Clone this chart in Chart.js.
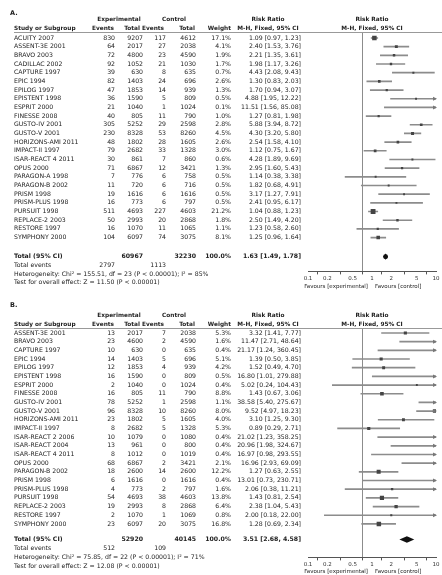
<!DOCTYPE html>
<html>
<head>
<meta charset="utf-8">
<script src="https://cdn.jsdelivr.net/npm/chart.js@4.4.1/dist/chart.umd.min.js"></script>
<style>
html, body { margin: 0; padding: 0; background: #fff; }
canvas { position: absolute; left: 0; }
#chartA { top: 0; }
#chartB { top: 292px; }
</style>
</head>
<body>
<canvas id="chartA" width="442" height="292"></canvas>
<canvas id="chartB" width="442" height="283"></canvas>
<script>
// axis ticks (risk ratio, log scale)
const xTicks = [0.1, 0.2, 0.5, 1, 2, 5, 10]

// ---- panel A ----
const studiesA = ["ACUITY 2007", "ASSENT-3E 2001", "BRAVO 2003", "CADILLAC 2002", "CAPTURE 1997", "EPIC 1994",
  "EPILOG 1997", "EPISTENT 1998", "ESPRIT 2000", "FINESSE 2008", "GUSTO-IV 2001", "GUSTO-V 2001",
  "HORIZONS-AMI 2011", "IMPACT-II 1997", "ISAR-REACT 4 2011", "OPUS 2000", "PARAGON-A 1998", "PARAGON-B 2002",
  "PRISM 1998", "PRISM-PLUS 1998", "PURSUIT 1998", "REPLACE-2 2003", "RESTORE 1997", "SYMPHONY 2000"]
const expEventsA = [830, 64, 72, 92, 39, 82, 47, 36, 21, 40, 305, 230, 48, 79, 30, 71, 7, 11, 19, 16, 511, 50, 16, 104]
const expTotalA = [9207, 2017, 4800, 1052, 630, 1403, 1853, 1590, 1040, 805, 5252, 8328, 1802, 2682, 861, 6867, 776, 720, 1616, 773, 4693, 2993, 1070, 6097]
const ctlEventsA = [117, 27, 23, 21, 8, 24, 14, 5, 1, 11, 29, 53, 28, 33, 7, 12, 6, 6, 6, 6, 227, 20, 11, 74]
const ctlTotalA = [4612, 2038, 4590, 1030, 635, 696, 939, 809, 1024, 790, 2598, 8260, 1605, 1328, 860, 3421, 758, 716, 1616, 797, 4603, 2868, 1065, 3075]
const weightA = [17.1, 4.1, 1.9, 1.7, 0.7, 2.6, 1.3, 0.5, 0.1, 1.0, 2.8, 4.5, 2.6, 3.0, 0.6, 1.3, 0.5, 0.5, 0.5, 0.5, 21.2, 1.8, 1.1, 8.1]
const rrA = [1.09, 2.40, 2.21, 1.98, 4.43, 1.30, 1.70, 4.88, 11.51, 1.27, 5.88, 4.30, 2.54, 1.12, 4.28, 2.95, 1.14, 1.82, 3.17, 2.41, 1.04, 2.50, 1.23, 1.25]
const loA = [0.97, 1.53, 1.35, 1.17, 2.08, 0.83, 0.94, 1.95, 1.56, 0.81, 3.94, 3.20, 1.58, 0.75, 1.89, 1.60, 0.38, 0.68, 1.27, 0.95, 0.88, 1.49, 0.58, 0.96]
const hiA = [1.23, 3.76, 3.61, 3.26, 9.43, 2.03, 3.07, 12.22, 85.08, 1.98, 8.72, 5.80, 4.10, 1.67, 9.69, 5.43, 3.38, 4.91, 7.91, 6.17, 1.23, 4.20, 2.60, 1.64]
const totalA = { expN: "60967", ctlN: "32230", rr: 1.63, lo: 1.49, hi: 1.78, expEv: "2797", ctlEv: "1113" }
const hetA = "Heterogeneity: Chi² = 155.51, df = 23 (P < 0.00001); I² = 85%"
const testA = "Test for overall effect: Z = 11.50 (P < 0.00001)"

// ---- panel B ----
const studiesB = ["ASSENT-3E 2001", "BRAVO 2003", "CAPTURE 1997", "EPIC 1994", "EPILOG 1997", "EPISTENT 1998",
  "ESPRIT 2000", "FINESSE 2008", "GUSTO-IV 2001", "GUSTO-V 2001", "HORIZONS-AMI 2011", "IMPACT-II 1997",
  "ISAR-REACT 2 2006", "ISAR-REACT 2004", "ISAR-REACT 4 2011", "OPUS 2000", "PARAGON-B 2002", "PRISM 1998",
  "PRISM-PLUS 1998", "PURSUIT 1998", "REPLACE-2 2003", "RESTORE 1997", "SYMPHONY 2000"]
const expEventsB = [13, 23, 10, 14, 12, 16, 2, 16, 78, 96, 23, 8, 10, 13, 8, 68, 18, 6, 4, 54, 19, 2, 23]
const expTotalB = [2017, 4600, 630, 1403, 1853, 1590, 1040, 805, 5252, 8328, 1802, 2682, 1079, 961, 1012, 6867, 2600, 1616, 773, 4693, 2993, 1070, 6097]
const ctlEventsB = [7, 2, 0, 5, 4, 0, 0, 11, 1, 10, 5, 5, 0, 0, 0, 2, 14, 0, 2, 38, 8, 1, 20]
const ctlTotalB = [2038, 4590, 635, 696, 939, 809, 1024, 790, 2598, 8260, 1605, 1328, 1080, 800, 1019, 3421, 2600, 1616, 797, 4603, 2868, 1069, 3075]
const weightB = [5.3, 1.6, 0.4, 5.1, 4.2, 0.5, 0.4, 8.8, 1.1, 8.0, 4.0, 5.3, 0.4, 0.4, 0.4, 2.1, 12.2, 0.4, 1.6, 13.8, 6.4, 0.8, 16.8]
const rrB = [3.32, 11.47, 21.17, 1.39, 1.52, 16.80, 5.02, 1.43, 38.58, 9.52, 3.10, 0.89, 21.02, 20.96, 16.97, 16.96, 1.27, 13.01, 2.06, 1.43, 2.38, 2.00, 1.28]
const loB = [1.41, 2.71, 1.24, 0.50, 0.49, 1.01, 0.24, 0.67, 5.40, 4.97, 1.25, 0.29, 1.23, 1.98, 0.98, 2.93, 0.63, 0.73, 0.38, 0.81, 1.04, 0.18, 0.69]
const hiB = [7.77, 48.64, 360.45, 3.85, 4.70, 279.88, 104.43, 3.06, 275.67, 18.23, 9.30, 2.71, 358.25, 324.67, 293.55, 69.09, 2.55, 230.71, 11.21, 2.54, 5.43, 22.00, 2.34]
const totalB = { expN: "52920", ctlN: "40145", rr: 3.51, lo: 2.68, hi: 4.58, expEv: "512", ctlEv: "109" }
const hetB = "Heterogeneity: Chi² = 75.85, df = 22 (P < 0.00001); I² = 71%"
const testB = "Test for overall effect: Z = 12.08 (P < 0.00001)"

const FONT = '"DejaVu Sans", Verdana, sans-serif'
const fmt = (r, l, h) => r.toFixed(2) + " [" + l.toFixed(2) + ", " + h.toFixed(2) + "]"

const forestPlugin = {
    id: 'forest',
    afterDraw(chart, args, o) {
        const ctx = chart.ctx, xs = chart.scales.x, ys = chart.scales.y
        const top = chart.chartArea.top
        const Y = v => ys.getPixelForValue(v)
        const txt = (s, x, y, align, bold, size) => {
            ctx.font = (bold ? 'bold ' : '') + (size || 6.2) + 'px ' + FONT
            ctx.textAlign = align
            ctx.fillText(s, x, y)
        }
        ctx.save()
        ctx.fillStyle = '#222'
        ctx.textBaseline = 'middle'

        txt(o.letter, 10, top - o.letterOff, 'left', true, 6.5)
        // column headers
        const h1 = top - 13, h2 = top - 3.5
        txt('Experimental', 119, h1, 'center', true, 5.8)
        txt('Control', 174, h1, 'center', true, 5.8)
        txt('Risk Ratio', 268, h1, 'center', true, 5.8)
        txt('Risk Ratio', xs.getPixelForValue(1), h1, 'center', true, 5.8)
        txt('Study or Subgroup', 14, h2, 'left', true, 5.8)
        txt('Events', 114, h2, 'right', true, 5.8)
        txt('Total', 140, h2, 'right', true, 5.8)
        txt('Events', 164, h2, 'right', true, 5.8)
        txt('Total', 195, h2, 'right', true, 5.8)
        txt('Weight', 231, h2, 'right', true, 5.8)
        txt('M-H, Fixed, 95% CI', 268, h2, 'center', true, 5.8)
        txt('M-H, Fixed, 95% CI', xs.getPixelForValue(1), h2, 'center', true, 5.8)

        ctx.strokeStyle = '#999'
        ctx.lineWidth = 1
        ctx.beginPath()
        ctx.moveTo(14, top + 0.5)
        ctx.lineTo(442, top + 0.5)
        ctx.stroke()

        // study rows
        o.studies.forEach((s, i) => {
            const y = Y(i)
            txt(s, 14, y, 'left')
            txt(String(o.evE[i]), 115, y, 'right')
            txt(String(o.nE[i]), 143, y, 'right')
            txt(String(o.evC[i]), 166, y, 'right')
            txt(String(o.nC[i]), 196, y, 'right')
            txt(o.w[i].toFixed(1) + '%', 231, y, 'right')
            txt(fmt(o.rr[i], o.lo[i], o.hi[i]), 301, y, 'right')
        })

        // totals and footer
        const t = o.total
        let y = Y(o.totalRow)
        txt('Total (95% CI)', 14, y, 'left', true)
        txt(t.expN, 143, y, 'right', true)
        txt(t.ctlN, 196, y, 'right', true)
        txt('100.0%', 231, y, 'right', true)
        txt(fmt(t.rr, t.lo, t.hi), 301, y, 'right', true)
        y = Y(o.totalRow + 1)
        txt('Total events', 14, y, 'left')
        txt(t.expEv, 115, y, 'right')
        txt(t.ctlEv, 166, y, 'right')
        txt(o.het, 14, Y(o.totalRow + o.hetGap), 'left')
        txt(o.test, 14, Y(o.totalRow + o.hetGap + 1), 'left')

        // favours labels under the axis
        const fy = chart.chartArea.bottom + o.favOff
        const x1 = xs.getPixelForValue(1)
        txt('Favours [experimental]', x1 - 4, fy, 'right', false, 5.5)
        txt('Favours [control]', x1 + 3, fy, 'left', false, 5.5)

        // arrows for intervals running off the axis
        ctx.fillStyle = '#777'
        o.studies.forEach((s, i) => {
            const yy = Y(i)
            if (o.hi[i] > 10) {
                const xr = xs.getPixelForValue(10)
                ctx.beginPath()
                ctx.moveTo(xr + 1, yy)
                ctx.lineTo(xr - 3, yy - 2)
                ctx.lineTo(xr - 3, yy + 2)
                ctx.closePath()
                ctx.fill()
            }
            if (o.lo[i] < 0.1) {
                const xl = xs.getPixelForValue(0.1)
                ctx.beginPath()
                ctx.moveTo(xl - 1, yy)
                ctx.lineTo(xl + 3, yy - 2)
                ctx.lineTo(xl + 3, yy + 2)
                ctx.closePath()
                ctx.fill()
            }
        })

        // summary diamond
        const yd = Y(o.totalRow)
        ctx.fillStyle = '#111'
        ctx.beginPath()
        ctx.moveTo(xs.getPixelForValue(t.lo), yd)
        ctx.lineTo(xs.getPixelForValue(t.rr), yd - 3.2)
        ctx.lineTo(xs.getPixelForValue(t.hi), yd)
        ctx.lineTo(xs.getPixelForValue(t.rr), yd + 3.2)
        ctx.closePath()
        ctx.fill()
        ctx.beginPath()
        ctx.arc(xs.getPixelForValue(t.rr), yd, 2.4, 0, Math.PI * 2)
        ctx.fill()
        ctx.restore()
    }
}

function makeForest(id, p) {
    const rows = p.studies.map((s, i) => i)
    return new Chart(document.getElementById(id), {
        type: 'bar',
        data: {
            datasets: [
                {
                    type: 'bar',
                    indexAxis: 'y',
                    data: rows.map(i => ({ y: i, x: [Math.max(p.lo[i], 0.1), Math.min(p.hi[i], 10)] })),
                    backgroundColor: '#8c8c8c',
                    barThickness: 1,
                    order: 2
                },
                {
                    type: 'scatter',
                    data: rows.map(i => ({ x: p.rr[i], y: i })),
                    pointStyle: 'rect',
                    pointRadius: p.w.map(w => (1.4 + Math.sqrt(w) * 0.75) / 1.414),
                    backgroundColor: '#444',
                    borderWidth: 0,
                    order: 1
                }
            ]
        },
        options: {
            responsive: false,
            animation: false,
            layout: { padding: { left: 308, right: 6, top: p.padTop, bottom: p.padBottom } },
            plugins: { legend: { display: false }, tooltip: { enabled: false }, forest: p },
            scales: {
                x: {
                    type: 'logarithmic',
                    min: 0.1,
                    max: 10,
                    afterBuildTicks: s => { s.ticks = xTicks.map(v => ({ value: v })) },
                    ticks: {
                        font: { size: 5.5, family: FONT },
                        color: '#333',
                        padding: 1,
                        maxRotation: 0,
                        autoSkip: false,
                        callback: v => String(v)
                    },
                    grid: {
                        color: c => (c.tick && c.tick.value === 1) ? '#8c8c8c' : 'rgba(0,0,0,0)',
                        tickColor: '#555',
                        tickLength: 3,
                        drawOnChartArea: true
                    },
                    border: { display: true, color: '#555' }
                },
                y: {
                    type: 'linear',
                    reverse: true,
                    offset: false,
                    min: p.yMin,
                    max: p.yMax,
                    display: false
                }
            }
        },
        plugins: [forestPlugin]
    })
}

makeForest('chartA', {
    letter: 'A.', letterOff: 19, studies: studiesA, evE: expEventsA, nE: expTotalA, evC: ctlEventsA, nC: ctlTotalA,
    w: weightA, rr: rrA, lo: loA, hi: hiA, total: totalA, het: hetA, test: testA,
    totalRow: 25.2, hetGap: 2, yMin: -0.69, yMax: 26.9, padTop: 32, padBottom: 9, favOff: 15
})
makeForest('chartB', {
    letter: 'B.', letterOff: 23, studies: studiesB, evE: expEventsB, nE: expTotalB, evC: ctlEventsB, nC: ctlTotalB,
    w: weightB, rr: rrB, lo: loB, hi: hiB, total: totalB, het: hetB, test: testB,
    totalRow: 23.8, hetGap: 2.05, yMin: -0.575, yMax: 25.86, padTop: 36, padBottom: 6, favOff: 14
})
</script>
</body>
</html>
